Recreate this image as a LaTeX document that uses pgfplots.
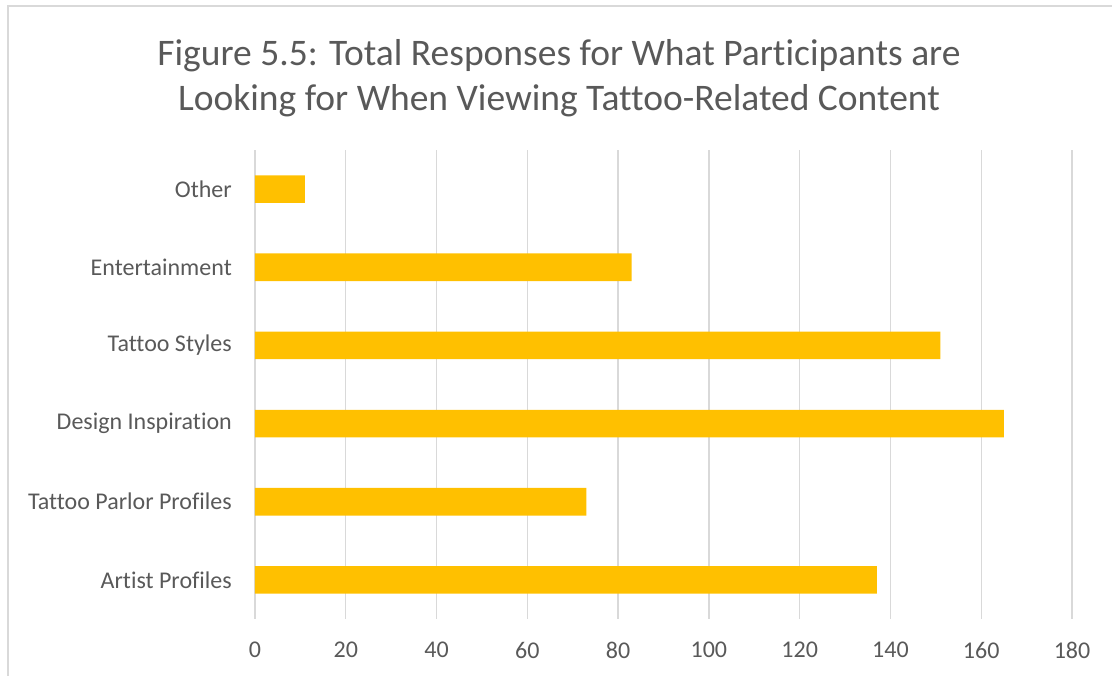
\documentclass[border=0pt]{standalone}
\usepackage{fontspec}
\setmainfont{Carlito}[Ligatures={NoCommon}]
\usepackage{pgfplots}
\pgfplotsset{compat=1.18}
\definecolor{barc}{HTML}{FFC000}
\definecolor{txt}{HTML}{595959}
\definecolor{gridc}{HTML}{D9D9D9}
\begin{document}
\begin{tikzpicture}[x=1pt,y=1pt]
\path[use as bounding box] (0,0) rectangle (1112,676);
\draw[gridc,line width=1.5pt] (8,0) -- (8,670) -- (1112,670);
\node[txt,font=\fontsize{37.5}{45}\selectfont,align=center,anchor=center] at (559,598)
  {Figure 5.5: Total Responses for What Participants are\\Looking for When Viewing Tattoo-Related Content};
\begin{axis}[
  at={(255pt,57pt)}, anchor=south west,
  scale only axis, width=817pt, height=469pt,
  xbar, bar width=27.6pt,
  xmin=0, xmax=180, ymin=-0.5, ymax=5.5,
  xtick={0,20,...,180},
  ytick={0,1,2,3,4,5},
  yticklabels={Artist Profiles,Tattoo Parlor Profiles,Design Inspiration,Tattoo Styles,Entertainment,Other},
  axis line style={draw=none},
  major tick length=0pt,
  xmajorgrids, grid style={gridc,line width=1.4pt},
  /pgf/number format/assume math mode=true,
  tick label style={txt,font=\fontsize{24}{28}\selectfont},
  yticklabel style={anchor=east,inner sep=0pt,xshift=-23pt},
  xticklabel style={anchor=north,inner sep=0pt,yshift=-23pt},
]
\addplot[fill=barc,draw=none] coordinates {(137,0) (73,1) (165,2) (151,3) (83,4) (11,5)};
\end{axis}
\end{tikzpicture}
\end{document}
